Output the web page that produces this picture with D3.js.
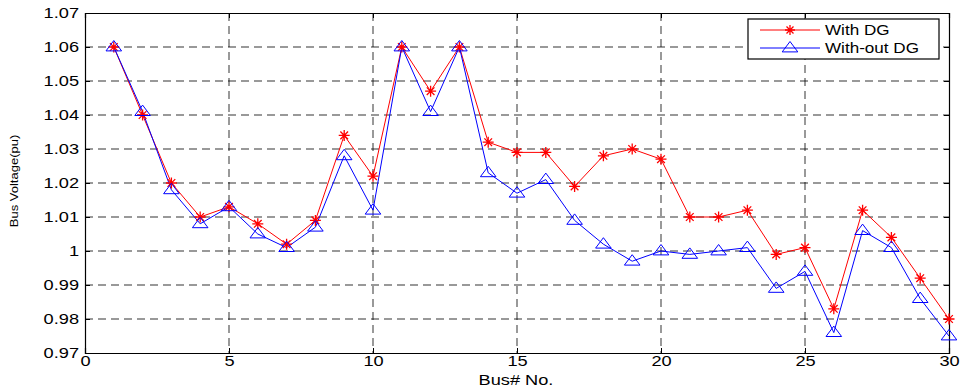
<!DOCTYPE html>
<html>
<head>
<meta charset="utf-8">
<script src="https://cdn.jsdelivr.net/npm/d3@7"></script>
<style>
  body { margin: 0; background: #fff; }
  svg { display: block; }
  text { font-family: "Liberation Sans", Arial, sans-serif; }
</style>
</head>
<body>
<figure id="chart" style="margin:0"></figure>
<script>
// bus numbers 1..30
const buses = [1,2,3,4,5,6,7,8,9,10,11,12,13,14,15,16,17,18,19,20,21,22,23,24,25,26,27,28,29,30]

const withDG = [1.060,1.040,1.020,1.010,1.013,1.008,1.002,1.009,1.034,1.022,
  1.060,1.047,1.060,1.032,1.029,1.029,1.019,1.028,1.030,1.027,
  1.010,1.010,1.012,0.999,1.001,0.983,1.012,1.004,0.992,0.980]

const withoutDG = [1.060,1.041,1.018,1.008,1.013,1.005,1.001,1.007,1.028,1.012,
  1.060,1.041,1.060,1.023,1.017,1.021,1.009,1.002,0.997,1.000,
  0.999,1.000,1.001,0.989,0.994,0.976,1.006,1.001,0.986,0.975]

const xTicks = [0,5,10,15,20,25,30]
const yTicks = [0.97,0.98,0.99,1.0,1.01,1.02,1.03,1.04,1.05,1.06,1.07]
const yTickLabels = ["0.97","0.98","0.99","1","1.01","1.02","1.03","1.04","1.05","1.06","1.07"]

const seriesNames = ["With DG", "With-out DG"]
const colors = ["#ff0000", "#0000ff"]

const W = 964, H = 391
const pLeft = 85, pRight = 949, pTop = 13, pBottom = 353

// the source image is stretched sideways, so texts get widened
function stretch(sel, k) {
  sel.each(function () {
    const w = this.getComputedTextLength()
    if (w > 0) d3.select(this).attr("textLength", w * k).attr("lengthAdjust", "spacingAndGlyphs")
  })
}

const svg = d3.select("figure#chart")
  .append("svg")
  .attr("width", W)
  .attr("height", H)

const x = d3.scaleLinear().domain([0, 30]).range([pLeft, pRight])
const y = d3.scaleLinear().domain([0.97, 1.07]).range([pBottom, pTop])

// grid
const grid = svg.append("g")
  .attr("stroke", "#000")
  .attr("stroke-width", 1)
  .attr("stroke-dasharray", "8,5")
  .attr("stroke-opacity", 0.8)
grid.selectAll("line.v")
  .data(xTicks.slice(1, -1))
  .join("line")
  .attr("class", "v")
  .attr("x1", d => x(d)).attr("x2", d => x(d))
  .attr("y1", pTop).attr("y2", pBottom)
grid.selectAll("line.h")
  .data(yTicks.slice(1, -1))
  .join("line")
  .attr("class", "h")
  .attr("x1", pLeft).attr("x2", pRight)
  .attr("y1", d => y(d)).attr("y2", d => y(d))

// axes
svg.append("g")
  .attr("transform", "translate(0," + pBottom + ")")
  .call(d3.axisBottom(x).tickValues(xTicks).tickSize(-5).tickPadding(3).tickFormat(d3.format("d")))
svg.append("g")
  .attr("transform", "translate(0," + pTop + ")")
  .call(d3.axisTop(x).tickValues(xTicks).tickSize(-5).tickFormat(""))
svg.append("g")
  .attr("class", "yl")
  .attr("transform", "translate(" + pLeft + ",0)")
  .call(d3.axisLeft(y).tickValues(yTicks).tickSize(-5).tickPadding(6).tickFormat((d, i) => yTickLabels[i]))
svg.append("g")
  .attr("transform", "translate(" + pRight + ",0)")
  .call(d3.axisRight(y).tickValues(yTicks).tickSize(-5).tickFormat(""))

svg.selectAll(".domain").attr("stroke", "#000").attr("stroke-width", 1.2)
svg.selectAll(".tick line").attr("stroke", "#000")
svg.selectAll(".tick text")
  .style("font-size", "14px")
  .attr("fill", "#000")
stretch(svg.selectAll(".tick text"), 1.3)

// axis titles
const xt = svg.append("text")
  .attr("x", 516)
  .attr("y", 385)
  .attr("text-anchor", "middle")
  .style("font-size", "14px")
  .text("Bus# No.")
stretch(xt, 1.3)

const yt = svg.append("text")
  .attr("transform", "translate(18,181) rotate(-90)")
  .attr("text-anchor", "middle")
  .style("font-size", "10px")
  .text("Bus Voltage(pu)")
stretch(yt, 1.3)

// lines
const line = d3.line().x((d, i) => x(buses[i])).y(d => y(d))
const allSeries = [withDG, withoutDG]

allSeries.forEach((s, k) => {
  svg.append("path")
    .datum(s)
    .attr("fill", "none")
    .attr("stroke", colors[k])
    .attr("stroke-width", 1)
    .attr("d", line)
})

// markers
const star = (g, cx, cy, r, c) => {
  const p = `M${cx - r},${cy}H${cx + r}M${cx},${cy - r}V${cy + r}` +
    `M${cx - r * 0.7},${cy - r * 0.7}L${cx + r * 0.7},${cy + r * 0.7}` +
    `M${cx - r * 0.7},${cy + r * 0.7}L${cx + r * 0.7},${cy - r * 0.7}`
  g.append("path").attr("d", p).attr("stroke", c).attr("stroke-width", 1.3).attr("fill", "none")
}
const tri = (g, cx, cy, r, c) => {
  g.append("path")
    .attr("d", `M${cx},${cy - r}L${cx + r * 1.2},${cy + r * 0.6}L${cx - r * 1.2},${cy + r * 0.6}Z`)
    .attr("stroke", c).attr("stroke-width", 1).attr("fill", "none")
}

const mk = svg.append("g")
withDG.forEach((v, i) => star(mk, x(buses[i]), y(v), 5.5, colors[0]))
withoutDG.forEach((v, i) => tri(mk, x(buses[i]), y(v), 6.5, colors[1]))

// legend
const lg = svg.append("g").attr("transform", "translate(748,19)")
lg.append("rect")
  .attr("width", 191).attr("height", 40)
  .attr("fill", "#fff").attr("stroke", "#000").attr("stroke-width", 1.2)
seriesNames.forEach((name, k) => {
  const ly = 11 + k * 18
  lg.append("line")
    .attr("x1", 12).attr("x2", 72)
    .attr("y1", ly).attr("y2", ly)
    .attr("stroke", colors[k])
  if (k === 0) star(lg, 42, ly, 5, colors[0])
  else tri(lg, 42, ly, 6.5, colors[1])
  const t = lg.append("text")
    .attr("x", 77).attr("y", ly + 5)
    .style("font-size", "14px")
    .text(name)
  stretch(t, 1.22)
})
</script>
</body>
</html>
